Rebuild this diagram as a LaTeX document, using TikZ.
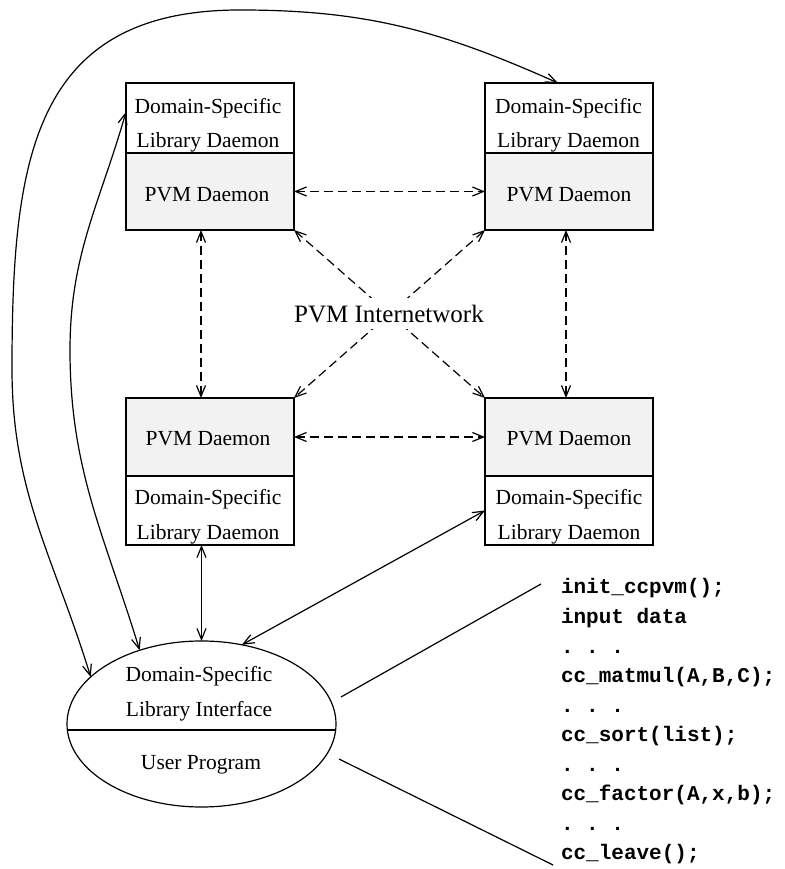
\documentclass[tikz,border=0pt]{standalone}
\usepackage{fontspec}
\setmainfont{Liberation Serif}
\setmonofont{Liberation Mono}
\usetikzlibrary{arrows.meta,shapes.geometric,calc}
\definecolor{pvmgray}{RGB}{242,242,242}
\begin{document}
\begin{tikzpicture}[x=1pt,y=1pt,
  every node/.style={inner sep=0pt, outer sep=0pt},
  half/.style={draw, line width=1.2pt, minimum width=168pt, inner sep=0pt},
  libbox/.style={half, fill=white},
  pvmbox/.style={half, fill=pvmgray},
  lbl/.style={font=\fontsize{21.5}{25}\selectfont, anchor=base},
  codeline/.style={font=\ttfamily\bfseries\fontsize{21}{25}\selectfont, anchor=base west},
  link/.style={line width=1.2pt, {Straight Barb[length=11pt,width=9pt]}-{Straight Barb[length=11pt,width=9pt]}},
  net/.style={link, dash pattern=on 9pt off 5pt},
  plain/.style={line width=1.2pt}
]
\useasboundingbox (0,0) rectangle (784,869);

% boxes
\node[libbox, minimum height=70pt] (dsl1) at (210,751) {};
\node[pvmbox, minimum height=77pt] (pvm1) at (210,677.5) {};
\node[libbox, minimum height=70pt] (dsl2) at (569,751) {};
\node[pvmbox, minimum height=77pt] (pvm2) at (569,677.5) {};
\node[pvmbox, minimum height=78pt] (pvm3) at (210,432) {};
\node[libbox, minimum height=69pt] (dsl3) at (210,358.5) {};
\node[pvmbox, minimum height=78pt] (pvm4) at (569,432) {};
\node[libbox, minimum height=69pt] (dsl4) at (569,358.5) {};

% box labels
\node[lbl] (t1a) at (208,755) {Domain-Specific};
\node[lbl] (t1b) at (208,721) {Library Daemon};
\node[lbl] (t1c) at (207,667) {PVM Daemon};
\node[lbl] (t2a) at (568.5,755) {Domain-Specific};
\node[lbl] (t2b) at (568.5,721) {Library Daemon};
\node[lbl] (t2c) at (569,667) {PVM Daemon};
\node[lbl] (t3c) at (208,423) {PVM Daemon};
\node[lbl] (t3a) at (208,364) {Domain-Specific};
\node[lbl] (t3b) at (208,329) {Library Daemon};
\node[lbl] (t4c) at (569,423) {PVM Daemon};
\node[lbl] (t4a) at (569,364) {Domain-Specific};
\node[lbl] (t4b) at (569,329) {Library Daemon};

% ellipse
\node[draw, ellipse, line width=1.2pt, minimum width=269pt, minimum height=166pt] (ell) at (201.5,145) {};
\draw[line width=2.6pt] ($(ell.center)+(-134.1,-6)$) -- ($(ell.center)+(134.1,-6)$);
\node[lbl] (e1) at (199,187.3) {Domain-Specific};
\node[lbl] (e2) at (199,152.3) {Library Interface};
\node[lbl] (e3) at (201,99) {User Program};

% dashed network links
\draw[net] (pvm1.east) -- (pvm2.west);
\draw[net] (pvm3.east) -- (pvm4.west);
\draw[net] ([xshift=-9pt]pvm1.south) -- ([xshift=-9pt]pvm3.north);
\draw[net] ([xshift=-3pt]pvm2.south) -- ([xshift=-3pt]pvm4.north);
\draw[net] (pvm1.south east) -- (pvm4.north west);
\draw[net] (pvm2.south west) -- (pvm3.north east);
\node[lbl, font=\fontsize{25}{28}\selectfont, fill=white, inner sep=6.5pt] (inet) at (389,546.7) {PVM Internetwork};

% solid links
\coordinate (top) at (240,859);
\coordinate (outl) at (12,500);
\coordinate (innl) at (70,519);
\draw[link] (ell.north |- dsl3.south) -- (ell.north);
\draw[link] (dsl4.west) -- (ell.63);
\draw[link] ([xshift=-11pt]dsl2.north) to[out=156,in=0] (top)
  to[out=180,in=90,looseness=1.25] (outl) to[out=-90,in=107] (ell.157);
\draw[link] ([yshift=6pt]dsl1.west) to[out=254,in=90] (innl)
  to[out=-90,in=107] (ell.130);

% lines to code
\coordinate (a1) at (341,172);
\coordinate (a2) at (541,285);
\coordinate (b1) at (339,110);
\coordinate (b2) at (553,4);
\draw[plain] (a1) -- (a2);
\draw[plain] (b1) -- (b2);

% code
\node[codeline] (c0) at (561,275) {init\_ccpvm();};
\node[codeline] (c1) at (561,245.45) {input data};
\node[codeline] (c2) at (561,215.9) {.\ .\ .};
\node[codeline] (c3) at (561,186.35) {cc\_matmul(A,B,C);};
\node[codeline] (c4) at (561,156.8) {.\ .\ .};
\node[codeline] (c5) at (561,127.25) {cc\_sort(list);};
\node[codeline] (c6) at (561,97.7) {.\ .\ .};
\node[codeline] (c7) at (561,68.15) {cc\_factor(A,x,b);};
\node[codeline] (c8) at (561,38.6) {.\ .\ .};
\node[codeline] (c9) at (561,9.05) {cc\_leave();};
\end{tikzpicture}
\end{document}
